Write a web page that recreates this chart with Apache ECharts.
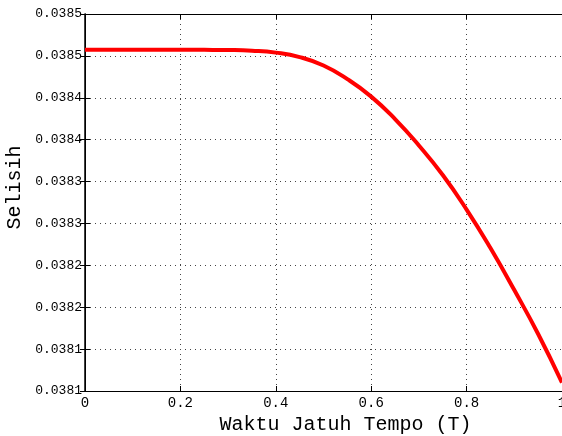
<!DOCTYPE html>
<html>
<head>
<meta charset="utf-8">
<script src="https://cdn.jsdelivr.net/npm/echarts@6/dist/echarts.min.js"></script>
<style>
  html, body { margin: 0; padding: 0; background: #fff; }
  #chart { width: 562px; height: 436px; }
</style>
</head>
<body>
<div id="chart"></div>
<script>
// Maturity time T (x values)
const maturity = [0, 0.05, 0.1, 0.15, 0.2, 0.25, 0.3, 0.35, 0.4, 0.45, 0.5,
                  0.55, 0.6, 0.65, 0.7, 0.75, 0.8, 0.85, 0.9, 0.95, 1];
// Difference (Selisih) at each maturity
const selisih = [0.0385073, 0.0385073, 0.0385073, 0.0385073, 0.0385073, 0.0385072,
                 0.0385070, 0.0385062, 0.0385039, 0.0384986, 0.0384885, 0.0384723,
                 0.0384514, 0.0384246, 0.0383931, 0.0383578, 0.0383166, 0.0382706,
                 0.0382205, 0.0381680, 0.0381100];
// Axis tick labels
const xTickLabels = ['0', '0.2', '0.4', '0.6', '0.8', '1'];
const yTickLabels = ['0.0381', '0.0381', '0.0382', '0.0382', '0.0383',
                     '0.0383', '0.0384', '0.0384', '0.0385', '0.0385'];

const xMin = 0, xMax = 1, xStep = 0.2;
const yMin = 0.0381, yMax = 0.03855, yStep = 0.00005;

const mono = '"Liberation Mono", "DejaVu Sans Mono", monospace';
const gridDots = { color: '#444', width: 1, type: [1, 4] };

const chart = echarts.init(document.getElementById('chart'), null, { renderer: 'canvas' });

const xLabelFmt = v => xTickLabels[Math.round((v - xMin) / xStep)];
const yLabelFmt = v => yTickLabels[Math.round((v - yMin) / yStep)];

chart.setOption({
  animation: false,
  backgroundColor: '#fff',
  grid: { left: 85, right: 0, top: 14, bottom: 45, containLabel: false, outerBoundsMode: 'none' },
  xAxis: [{
    type: 'value', min: xMin, max: xMax, interval: xStep, position: 'bottom',
    name: 'Waktu Jatuh Tempo (T)', nameLocation: 'middle', nameGap: 15,
    nameTextStyle: { fontFamily: mono, fontSize: 20, color: '#000', padding: [0, 0, 0, 44] },
    axisLine: { show: true, lineStyle: { color: '#000', width: 1 } },
    axisTick: { show: true, inside: true, length: 5, lineStyle: { color: '#000' } },
    axisLabel: { fontFamily: mono, fontSize: 14, color: '#000', margin: 5, formatter: xLabelFmt },
    splitLine: { show: true, lineStyle: gridDots }
  }, {
    type: 'value', min: xMin, max: xMax, interval: xStep, position: 'top',
    axisLine: { show: true, lineStyle: { color: '#000', width: 1 } },
    axisTick: { show: true, inside: true, length: 5, lineStyle: { color: '#000' } },
    axisLabel: { show: false }, splitLine: { show: false }
  }],
  yAxis: [{
    type: 'value', min: yMin, max: yMax, interval: yStep, position: 'left',
    name: 'Selisih', nameLocation: 'middle', nameGap: 58, nameRotate: 90,
    nameTextStyle: { fontFamily: mono, fontSize: 20, color: '#000', padding: [0, 0, 0, 30] },
    axisLine: { show: true, lineStyle: { color: '#000', width: 1.5 } },
    axisTick: { show: true, inside: true, length: 5, lineStyle: { color: '#000' } },
    axisLabel: { fontFamily: mono, fontSize: 13, color: '#000', margin: 3, formatter: yLabelFmt },
    splitLine: { show: true, lineStyle: gridDots }
  }, {
    type: 'value', min: yMin, max: yMax, interval: yStep, position: 'right',
    axisLine: { show: true, lineStyle: { color: '#000', width: 1 } },
    axisTick: { show: true, inside: true, length: 5, lineStyle: { color: '#000' } },
    axisLabel: { show: false }, splitLine: { show: false }
  }],
  series: [{
    type: 'line',
    data: maturity.map((t, i) => [t, selisih[i]]),
    smooth: true,
    showSymbol: false,
    lineStyle: { color: '#ff0000', width: 4 },
    clip: true
  }]
});
</script>
</body>
</html>
